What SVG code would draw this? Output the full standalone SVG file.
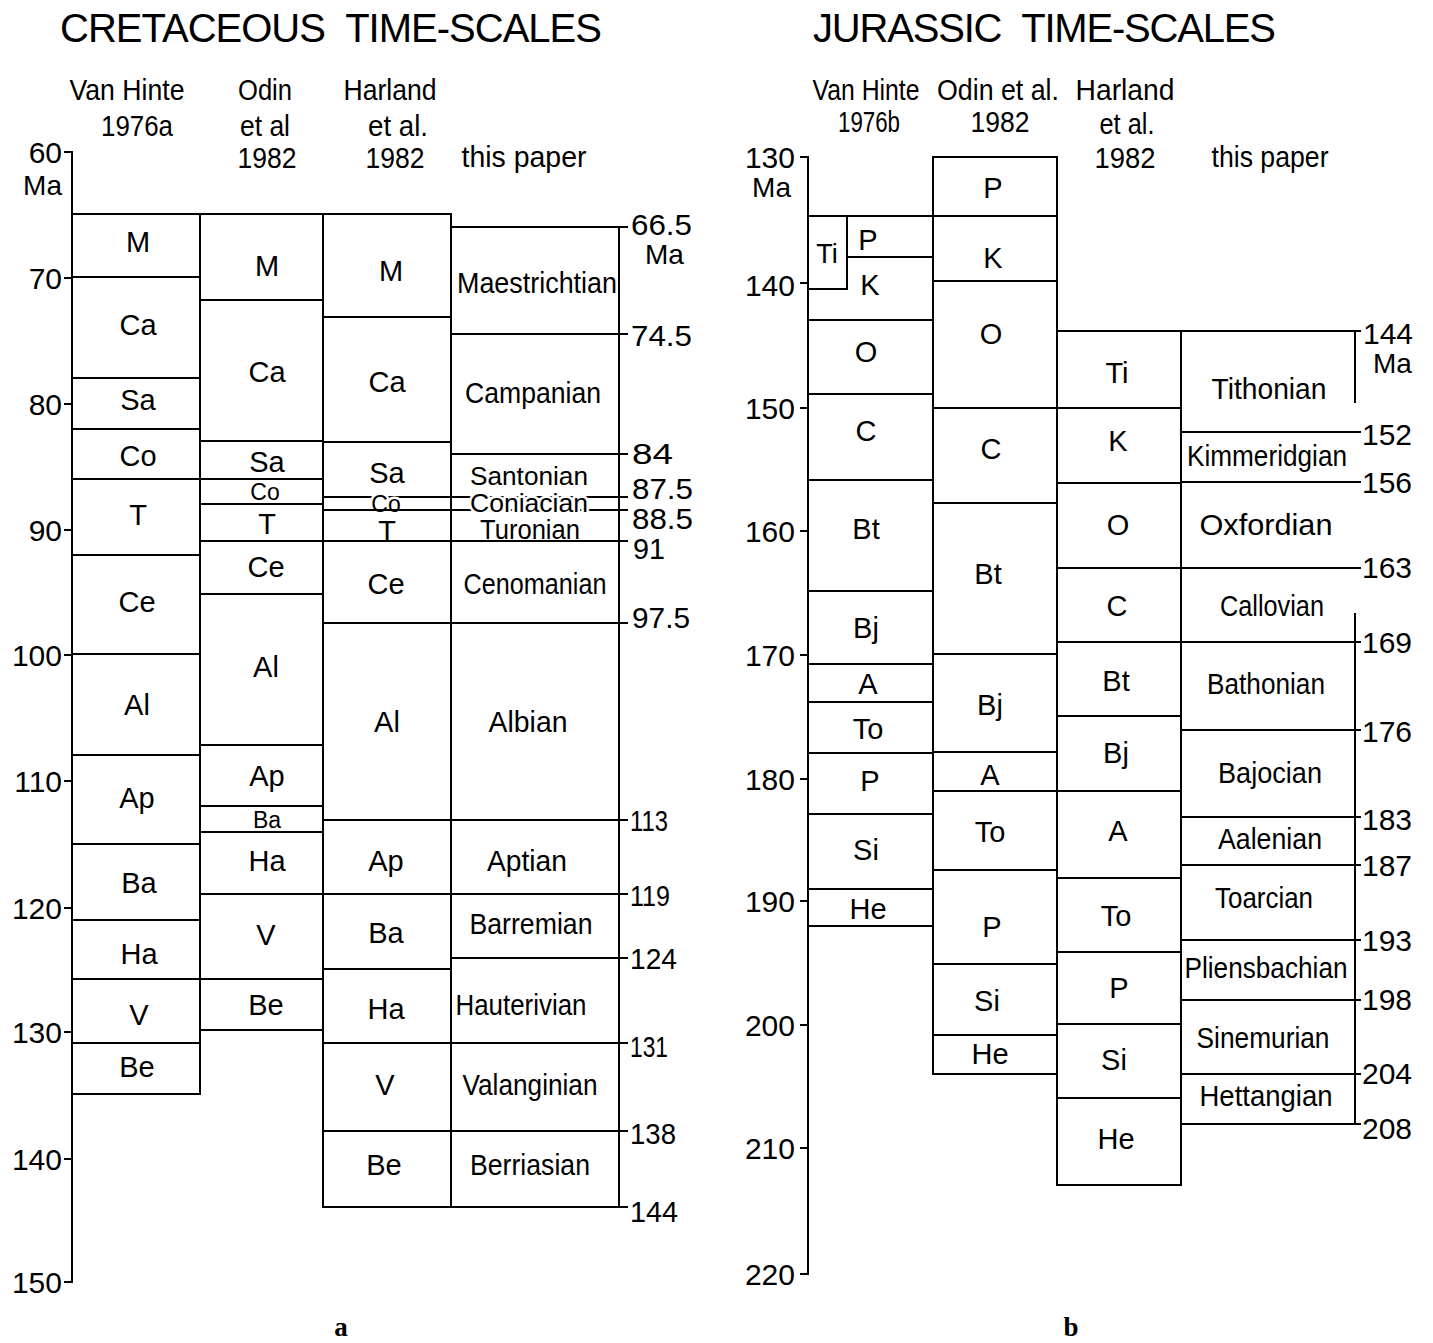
<svg xmlns="http://www.w3.org/2000/svg" width="1433" height="1343" viewBox="0 0 1433 1343">
<style>
.c{fill:none;stroke:#000;stroke-width:2}
.ln{fill:none;stroke:#000;stroke-width:2}
text{font-family:"Liberation Sans",Arial,sans-serif;fill:#000}
.t{font-size:29px;text-anchor:middle}
.s{font-size:23px;text-anchor:middle}
.n{font-size:30px}
.ax{font-size:30px;text-anchor:end}
.h{font-size:29px;text-anchor:middle}
.ttl{font-size:40px}
.halo{paint-order:stroke;stroke:#fff;stroke-width:5px;stroke-linejoin:round}
.fig{font-family:"Liberation Serif","Times New Roman",serif;font-weight:bold;font-size:27px;text-anchor:middle}
</style>
<rect width="1433" height="1343" fill="#fff"/>

<!-- Titles -->
<text class="ttl" x="60" y="42" textLength="542" lengthAdjust="spacing">CRETACEOUS&#160;&#160;TIME-SCALES</text>
<text class="ttl" x="813" y="42" textLength="463" lengthAdjust="spacing">JURASSIC&#160;&#160;TIME-SCALES</text>

<!-- ============ LEFT PANEL (a) ============ -->
<g id="left-headers">
<text class="h" x="127" y="100" textLength="115" lengthAdjust="spacingAndGlyphs">Van Hinte</text>
<text class="h" x="137" y="136" textLength="72" lengthAdjust="spacingAndGlyphs">1976a</text>
<text class="h" x="265" y="100" textLength="54" lengthAdjust="spacingAndGlyphs">Odin</text>
<text class="h" x="265" y="136" textLength="50" lengthAdjust="spacingAndGlyphs">et al</text>
<text class="h" x="267" y="168" textLength="59" lengthAdjust="spacingAndGlyphs">1982</text>
<text class="h" x="390" y="100" textLength="93" lengthAdjust="spacingAndGlyphs">Harland</text>
<text class="h" x="398" y="136" textLength="60" lengthAdjust="spacingAndGlyphs">et al.</text>
<text class="h" x="395" y="168" textLength="59" lengthAdjust="spacingAndGlyphs">1982</text>
<text class="h" x="524" y="167" textLength="125" lengthAdjust="spacingAndGlyphs">this paper</text>
</g>

<g id="left-axis">
<path class="ln" d="M64,152 H72 V1282 H64"/>
<path class="ln" d="M64,278 H72 M64,404 H72 M64,530 H72 M64,655 H72 M64,781 H72 M64,908 H72 M64,1032 H72 M64,1159 H72"/>
<text class="ax" x="62" y="163">60</text>
<text class="ax" x="62" y="195" style="font-size:28px">Ma</text>
<text class="ax" x="62" y="289">70</text>
<text class="ax" x="62" y="415">80</text>
<text class="ax" x="62" y="541">90</text>
<text class="ax" x="62" y="666">100</text>
<text class="ax" x="62" y="792">110</text>
<text class="ax" x="62" y="919">120</text>
<text class="ax" x="62" y="1043">130</text>
<text class="ax" x="62" y="1170">140</text>
<text class="ax" x="62" y="1293">150</text>
</g>

<g id="left-vanhinte">
<g id="lvh-M"><rect class="c" x="72" y="214" width="128" height="63"/><text class="t" x="138" y="252">M</text></g>
<g id="lvh-Ca"><rect class="c" x="72" y="277" width="128" height="101"/><text class="t" x="138" y="335">Ca</text></g>
<g id="lvh-Sa"><rect class="c" x="72" y="378" width="128" height="51"/><text class="t" x="138" y="410">Sa</text></g>
<g id="lvh-Co"><rect class="c" x="72" y="429" width="128" height="50"/><text class="t" x="138" y="466">Co</text></g>
<g id="lvh-T"><rect class="c" x="72" y="479" width="128" height="76"/><text class="t" x="138" y="525">T</text></g>
<g id="lvh-Ce"><rect class="c" x="72" y="555" width="128" height="99"/><text class="t" x="137" y="612">Ce</text></g>
<g id="lvh-Al"><rect class="c" x="72" y="654" width="128" height="101"/><text class="t" x="137" y="715">Al</text></g>
<g id="lvh-Ap"><rect class="c" x="72" y="755" width="128" height="89"/><text class="t" x="137" y="808">Ap</text></g>
<g id="lvh-Ba"><rect class="c" x="72" y="844" width="128" height="76"/><text class="t" x="139" y="893">Ba</text></g>
<g id="lvh-Ha"><rect class="c" x="72" y="920" width="128" height="59"/><text class="t" x="139" y="964">Ha</text></g>
<g id="lvh-V"><rect class="c" x="72" y="979" width="128" height="64"/><text class="t" x="139" y="1025">V</text></g>
<g id="lvh-Be"><rect class="c" x="72" y="1043" width="128" height="51"/><text class="t" x="137" y="1077">Be</text></g>
</g>

<g id="left-odin">
<g id="lod-M"><rect class="c" x="200" y="214" width="123" height="86"/><text class="t" x="267" y="276">M</text></g>
<g id="lod-Ca"><rect class="c" x="200" y="300" width="123" height="141"/><text class="t" x="267" y="382">Ca</text></g>
<g id="lod-Sa"><rect class="c" x="200" y="441" width="123" height="38"/><text class="t" x="267" y="472">Sa</text></g>
<g id="lod-Co"><rect class="c" x="200" y="479" width="123" height="25"/><text class="s" x="265" y="500">Co</text></g>
<g id="lod-T"><rect class="c" x="200" y="504" width="123" height="37"/><text class="t" x="267" y="534">T</text></g>
<g id="lod-Ce"><rect class="c" x="200" y="541" width="123" height="53"/><text class="t" x="266" y="577">Ce</text></g>
<g id="lod-Al"><rect class="c" x="200" y="594" width="123" height="151"/><text class="t" x="266" y="677">Al</text></g>
<g id="lod-Ap"><rect class="c" x="200" y="745" width="123" height="61"/><text class="t" x="267" y="786">Ap</text></g>
<g id="lod-Ba"><rect class="c" x="200" y="806" width="123" height="26"/><text class="s" x="267" y="828">Ba</text></g>
<g id="lod-Ha"><rect class="c" x="200" y="832" width="123" height="62"/><text class="t" x="267" y="871">Ha</text></g>
<g id="lod-V"><rect class="c" x="200" y="894" width="123" height="85"/><text class="t" x="266" y="945">V</text></g>
<g id="lod-Be"><rect class="c" x="200" y="979" width="123" height="51"/><text class="t" x="266" y="1015">Be</text></g>
</g>

<g id="left-harland">
<g id="lha-M"><rect class="c" x="323" y="214" width="128" height="103"/><text class="t" x="391" y="281">M</text></g>
<g id="lha-Ca"><rect class="c" x="323" y="317" width="128" height="125"/><text class="t" x="387" y="392">Ca</text></g>
<g id="lha-Sa"><rect class="c" x="323" y="442" width="128" height="55"/><text class="t" x="387" y="483">Sa</text></g>
<g id="lha-Co"><rect class="c" x="323" y="497" width="128" height="13"/><text class="s halo" x="386" y="512">Co</text></g>
<g id="lha-T"><rect class="c" x="323" y="510" width="128" height="31"/><text class="t" x="387" y="541">T</text></g>
<g id="lha-Ce"><rect class="c" x="323" y="541" width="128" height="82"/><text class="t" x="386" y="594">Ce</text></g>
<g id="lha-Al"><rect class="c" x="323" y="623" width="128" height="197"/><text class="t" x="387" y="732">Al</text></g>
<g id="lha-Ap"><rect class="c" x="323" y="820" width="128" height="74"/><text class="t" x="386" y="871">Ap</text></g>
<g id="lha-Ba"><rect class="c" x="323" y="894" width="128" height="75"/><text class="t" x="386" y="943">Ba</text></g>
<g id="lha-Ha"><rect class="c" x="323" y="969" width="128" height="74"/><text class="t" x="386" y="1019">Ha</text></g>
<g id="lha-V"><rect class="c" x="323" y="1043" width="128" height="88"/><text class="t" x="385" y="1095">V</text></g>
<g id="lha-Be"><rect class="c" x="323" y="1131" width="128" height="76"/><text class="t" x="384" y="1175">Be</text></g>
</g>

<g id="left-thispaper">
<path class="ln" d="M619,227 V1207"/>
<path class="ln" d="M451,227 H628 M451,334 H628 M451,454 H628 M451,497 H628 M451,510 H628 M451,541 H628 M451,623 H628 M451,820 H628 M451,894 H628 M451,958 H628 M451,1043 H628 M451,1131 H628 M451,1207 H628"/>
<g id="ltp-maestrichtian"><text class="t" x="537" y="293" textLength="160" lengthAdjust="spacingAndGlyphs">Maestrichtian</text></g>
<g id="ltp-campanian"><text class="t" x="533" y="403" textLength="136" lengthAdjust="spacingAndGlyphs">Campanian</text></g>
<g id="ltp-santonian"><text class="t" x="529" y="485" style="font-size:26px" textLength="118" lengthAdjust="spacingAndGlyphs">Santonian</text></g>
<g id="ltp-coniacian"><text class="t halo" x="529" y="512" style="font-size:25px" textLength="118" lengthAdjust="spacingAndGlyphs">Coniacian</text></g>
<g id="ltp-turonian"><text class="t" x="530" y="539" style="font-size:27px" textLength="100" lengthAdjust="spacingAndGlyphs">Turonian</text></g>
<g id="ltp-cenomanian"><text class="t" x="535" y="594" textLength="143" lengthAdjust="spacingAndGlyphs">Cenomanian</text></g>
<g id="ltp-albian"><text class="t" x="528" y="732" textLength="79" lengthAdjust="spacingAndGlyphs">Albian</text></g>
<g id="ltp-aptian"><text class="t" x="527" y="871" textLength="80" lengthAdjust="spacingAndGlyphs">Aptian</text></g>
<g id="ltp-barremian"><text class="t" x="531" y="934" textLength="123" lengthAdjust="spacingAndGlyphs">Barremian</text></g>
<g id="ltp-hauterivian"><text class="t" x="521" y="1015" textLength="131" lengthAdjust="spacingAndGlyphs">Hauterivian</text></g>
<g id="ltp-valanginian"><text class="t" x="530" y="1095" textLength="135" lengthAdjust="spacingAndGlyphs">Valanginian</text></g>
<g id="ltp-berriasian"><text class="t" x="530" y="1175" textLength="120" lengthAdjust="spacingAndGlyphs">Berriasian</text></g>
</g>

<g id="left-ages">
<text class="n" x="631" y="235" textLength="61" lengthAdjust="spacingAndGlyphs">66.5</text>
<text class="n" x="645" y="264" style="font-size:28px">Ma</text>
<text class="n" x="631" y="346" textLength="61" lengthAdjust="spacingAndGlyphs">74.5</text>
<text class="n" x="632" y="464" textLength="41" lengthAdjust="spacingAndGlyphs">84</text>
<text class="n" x="632" y="499" textLength="61" lengthAdjust="spacingAndGlyphs">87.5</text>
<text class="n" x="632" y="529" textLength="61" lengthAdjust="spacingAndGlyphs">88.5</text>
<text class="n" x="633" y="559" textLength="32" lengthAdjust="spacingAndGlyphs">91</text>
<text class="n" x="632" y="628" textLength="58" lengthAdjust="spacingAndGlyphs">97.5</text>
<text class="n" x="630" y="831" textLength="38" lengthAdjust="spacingAndGlyphs">113</text>
<text class="n" x="630" y="906" textLength="40" lengthAdjust="spacingAndGlyphs">119</text>
<text class="n" x="630" y="969" textLength="47" lengthAdjust="spacingAndGlyphs">124</text>
<text class="n" x="630" y="1057" textLength="38" lengthAdjust="spacingAndGlyphs">131</text>
<text class="n" x="630" y="1144" textLength="46" lengthAdjust="spacingAndGlyphs">138</text>
<text class="n" x="630" y="1222" textLength="48" lengthAdjust="spacingAndGlyphs">144</text>
</g>

<text class="fig" x="341" y="1336">a</text>

<!-- ============ RIGHT PANEL (b) ============ -->
<g id="right-headers">
<text class="h" x="866" y="100" textLength="107" lengthAdjust="spacingAndGlyphs">Van Hinte</text>
<text class="h" x="869" y="132" textLength="62" lengthAdjust="spacingAndGlyphs">1976b</text>
<text class="h" x="998" y="100" textLength="122" lengthAdjust="spacingAndGlyphs">Odin et al.</text>
<text class="h" x="1000" y="132" textLength="59" lengthAdjust="spacingAndGlyphs">1982</text>
<text class="h" x="1125" y="100" textLength="99" lengthAdjust="spacingAndGlyphs">Harland</text>
<text class="h" x="1127" y="134" textLength="55" lengthAdjust="spacingAndGlyphs">et al.</text>
<text class="h" x="1125" y="168" textLength="61" lengthAdjust="spacingAndGlyphs">1982</text>
<text class="h" x="1270" y="167" textLength="117" lengthAdjust="spacingAndGlyphs">this paper</text>
</g>

<g id="right-axis">
<path class="ln" d="M800,157 H808 V1274 H800"/>
<path class="ln" d="M800,283 H808 M800,408 H808 M800,531 H808 M800,655 H808 M800,779 H808 M800,901 H808 M800,1025 H808 M800,1148 H808"/>
<text class="ax" x="795" y="168">130</text>
<text class="ax" x="791" y="197" style="font-size:28px">Ma</text>
<text class="ax" x="795" y="296">140</text>
<text class="ax" x="795" y="419">150</text>
<text class="ax" x="795" y="542">160</text>
<text class="ax" x="795" y="666">170</text>
<text class="ax" x="795" y="790">180</text>
<text class="ax" x="795" y="912">190</text>
<text class="ax" x="795" y="1036">200</text>
<text class="ax" x="795" y="1159">210</text>
<text class="ax" x="795" y="1285">220</text>
</g>

<g id="right-vanhinte">
<g id="rvh-Ti"><rect class="c" x="808" y="216" width="39" height="73"/><text class="t" x="827" y="263" style="font-size:27px">Ti</text></g>
<g id="rvh-P"><rect class="c" x="847" y="216" width="86" height="41"/><text class="t" x="868" y="250">P</text></g>
<g id="rvh-K"><path class="c" d="M847,257 H933 V320 H808 V289 H847 Z"/><text class="t" x="870" y="295">K</text></g>
<g id="rvh-O"><rect class="c" x="808" y="320" width="125" height="74"/><text class="t" x="866" y="362">O</text></g>
<g id="rvh-C"><rect class="c" x="808" y="394" width="125" height="86"/><text class="t" x="866" y="441">C</text></g>
<g id="rvh-Bt"><rect class="c" x="808" y="480" width="125" height="111"/><text class="t" x="866" y="539">Bt</text></g>
<g id="rvh-Bj"><rect class="c" x="808" y="591" width="125" height="73"/><text class="t" x="866" y="638">Bj</text></g>
<g id="rvh-A"><rect class="c" x="808" y="664" width="125" height="38"/><text class="t" x="868" y="694">A</text></g>
<g id="rvh-To"><rect class="c" x="808" y="702" width="125" height="51"/><text class="t" x="868" y="739">To</text></g>
<g id="rvh-P2"><rect class="c" x="808" y="753" width="125" height="61"/><text class="t" x="870" y="791">P</text></g>
<g id="rvh-Si"><rect class="c" x="808" y="814" width="125" height="75"/><text class="t" x="866" y="860">Si</text></g>
<g id="rvh-He"><rect class="c" x="808" y="889" width="125" height="37"/><text class="t" x="868" y="919">He</text></g>
</g>

<g id="right-odin">
<g id="rod-P"><rect class="c" x="933" y="157" width="124" height="59"/><text class="t" x="993" y="198">P</text></g>
<g id="rod-K"><rect class="c" x="933" y="216" width="124" height="65"/><text class="t" x="993" y="268">K</text></g>
<g id="rod-O"><rect class="c" x="933" y="281" width="124" height="127"/><text class="t" x="991" y="344">O</text></g>
<g id="rod-C"><rect class="c" x="933" y="408" width="124" height="95"/><text class="t" x="991" y="459">C</text></g>
<g id="rod-Bt"><rect class="c" x="933" y="503" width="124" height="151"/><text class="t" x="988" y="584">Bt</text></g>
<g id="rod-Bj"><rect class="c" x="933" y="654" width="124" height="98"/><text class="t" x="990" y="715">Bj</text></g>
<g id="rod-A"><rect class="c" x="933" y="752" width="124" height="39"/><text class="t" x="990" y="785">A</text></g>
<g id="rod-To"><rect class="c" x="933" y="791" width="124" height="79"/><text class="t" x="990" y="842">To</text></g>
<g id="rod-P2"><rect class="c" x="933" y="870" width="124" height="94"/><text class="t" x="992" y="937">P</text></g>
<g id="rod-Si"><rect class="c" x="933" y="964" width="124" height="71"/><text class="t" x="987" y="1011">Si</text></g>
<g id="rod-He"><rect class="c" x="933" y="1035" width="124" height="39"/><text class="t" x="990" y="1064">He</text></g>
</g>

<g id="right-harland">
<g id="rha-Ti"><rect class="c" x="1057" y="331" width="124" height="77"/><text class="t" x="1117" y="383">Ti</text></g>
<g id="rha-K"><rect class="c" x="1057" y="408" width="124" height="75"/><text class="t" x="1118" y="451">K</text></g>
<g id="rha-O"><rect class="c" x="1057" y="483" width="124" height="85"/><text class="t" x="1118" y="535">O</text></g>
<g id="rha-C"><rect class="c" x="1057" y="568" width="124" height="74"/><text class="t" x="1117" y="616">C</text></g>
<g id="rha-Bt"><rect class="c" x="1057" y="642" width="124" height="74"/><text class="t" x="1116" y="691">Bt</text></g>
<g id="rha-Bj"><rect class="c" x="1057" y="716" width="124" height="75"/><text class="t" x="1116" y="763">Bj</text></g>
<g id="rha-A"><rect class="c" x="1057" y="791" width="124" height="87"/><text class="t" x="1118" y="841">A</text></g>
<g id="rha-To"><rect class="c" x="1057" y="878" width="124" height="74"/><text class="t" x="1116" y="926">To</text></g>
<g id="rha-P"><rect class="c" x="1057" y="952" width="124" height="72"/><text class="t" x="1119" y="998">P</text></g>
<g id="rha-Si"><rect class="c" x="1057" y="1024" width="124" height="74"/><text class="t" x="1114" y="1070">Si</text></g>
<g id="rha-He"><rect class="c" x="1057" y="1098" width="124" height="87"/><text class="t" x="1116" y="1149">He</text></g>
</g>

<g id="right-thispaper">
<path class="ln" d="M1355,331 V403 M1355,613 V1124"/>
<path class="ln" d="M1181,331 H1361 M1181,432 H1361 M1181,482 H1361 M1181,568 H1361 M1181,642 H1361 M1181,730 H1361 M1181,817 H1361 M1181,865 H1361 M1181,940 H1361 M1181,1000 H1361 M1181,1074 H1361 M1181,1124 H1361"/>
<g id="rtp-tithonian"><text class="t" x="1269" y="399" textLength="115" lengthAdjust="spacingAndGlyphs">Tithonian</text></g>
<g id="rtp-kimmeridgian"><text class="t" x="1267" y="466" textLength="160" lengthAdjust="spacingAndGlyphs">Kimmeridgian</text></g>
<g id="rtp-oxfordian"><text class="t" x="1266" y="535" textLength="133" lengthAdjust="spacingAndGlyphs">Oxfordian</text></g>
<g id="rtp-callovian"><text class="t" x="1272" y="616" textLength="104" lengthAdjust="spacingAndGlyphs">Callovian</text></g>
<g id="rtp-bathonian"><text class="t" x="1266" y="694" textLength="118" lengthAdjust="spacingAndGlyphs">Bathonian</text></g>
<g id="rtp-bajocian"><text class="t" x="1270" y="783" textLength="104" lengthAdjust="spacingAndGlyphs">Bajocian</text></g>
<g id="rtp-aalenian"><text class="t" x="1270" y="849" textLength="104" lengthAdjust="spacingAndGlyphs">Aalenian</text></g>
<g id="rtp-toarcian"><text class="t" x="1264" y="908" textLength="98" lengthAdjust="spacingAndGlyphs">Toarcian</text></g>
<g id="rtp-pliensbachian"><text class="t" x="1266" y="978" textLength="163" lengthAdjust="spacingAndGlyphs">Pliensbachian</text></g>
<g id="rtp-sinemurian"><text class="t" x="1263" y="1048" textLength="133" lengthAdjust="spacingAndGlyphs">Sinemurian</text></g>
<g id="rtp-hettangian"><text class="t" x="1266" y="1106" textLength="133" lengthAdjust="spacingAndGlyphs">Hettangian</text></g>
</g>

<g id="right-ages">
<text class="n" x="1363" y="344">144</text>
<text class="n" x="1373" y="373" style="font-size:28px">Ma</text>
<text class="n" x="1362" y="445">152</text>
<text class="n" x="1362" y="493">156</text>
<text class="n" x="1362" y="578">163</text>
<text class="n" x="1362" y="653">169</text>
<text class="n" x="1362" y="742">176</text>
<text class="n" x="1362" y="830">183</text>
<text class="n" x="1362" y="876">187</text>
<text class="n" x="1362" y="951">193</text>
<text class="n" x="1362" y="1010">198</text>
<text class="n" x="1362" y="1084">204</text>
<text class="n" x="1362" y="1139">208</text>
</g>

<text class="fig" x="1071" y="1336">b</text>
</svg>
